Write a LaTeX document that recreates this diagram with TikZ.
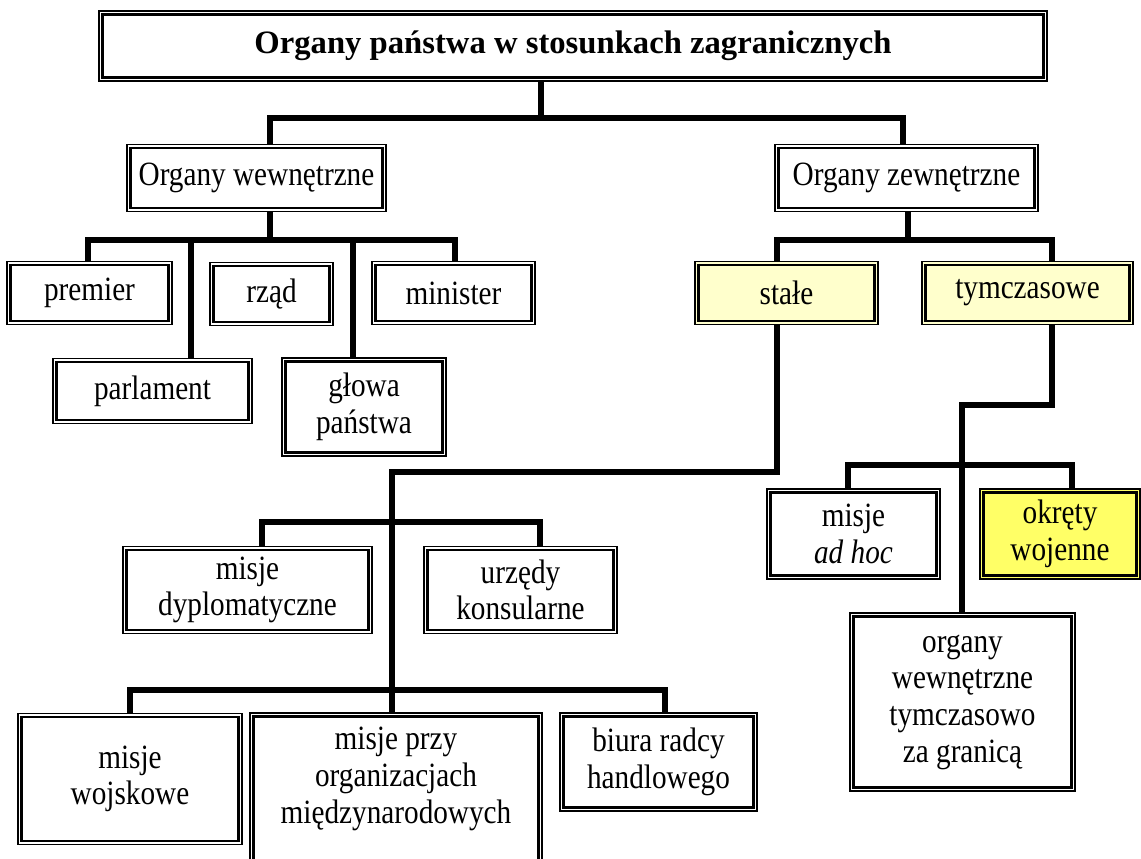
\documentclass[tikz,border=0pt]{standalone}
\usepackage{fontspec}
\setmainfont{Liberation Serif}[FakeStretch=0.86]
\newfontfamily\titlefont{Liberation Serif}
\begin{document}
\begin{tikzpicture}[x=0.75pt,y=-0.75pt,
  box/.style n args={4}{draw=black, line width=0.8pt, fill=white, inner sep=0pt,
     align=center, font=\fontsize{25.5}{27.5}\selectfont,
     minimum width={(#2-#1)*0.75pt}, minimum height={(#4-#3)*0.75pt}},
  conn/.style={line width=3.8pt, line join=miter},
  inner/.style={line width=1.6pt}]
\useasboundingbox (0,0) rectangle (1141,859);
\clip (0,0) rectangle (1141,859);
\fill[white] (0,0) rectangle (1141,859);

% boxes
\node[box={99}{1047}{10}{80}, font=\titlefont\fontsize{24.5}{27.5}\selectfont\bfseries] (title) at (573,46) {Organy państwa w stosunkach zagranicznych};
\node[box={127}{386}{143}{210}] (wew) at (256.5,178) {Organy wewnętrzne};
\node[box={775}{1038}{143}{210}] (zew) at (906.5,178) {Organy zewnętrzne};
\node[box={7}{172}{260}{323}] (premier) at (89.5,293) {premier};
\node[box={210}{333}{260}{323}] (rzad) at (271.5,294) {rząd};
\node[box={372}{535}{260}{323}] (minister) at (453.5,293) {minister};
\node[box={53}{252}{357}{422}] (parlament) at (152.5,391) {parlament};
\node[box={282}{446}{357}{455}] (glowa) at (364,407) {głowa\\państwa};
\node[box={695}{878}{260}{323}, fill={rgb,255:red,255;green,255;blue,204}] (stale) at (786.5,293) {stałe};
\node[box={922}{1133}{260}{323}, fill={rgb,255:red,255;green,255;blue,204}] (tymcz) at (1027.5,293) {tymczasowe};
\node[box={123}{372}{545}{632}] (dypl) at (247.5,590) {misje\\dyplomatyczne};
\node[box={424}{617}{545}{632}] (urz) at (520.5,590) {urzędy\\konsularne};
\node[box={18}{242}{712}{843}] (wojsk) at (130,779) {misje\\wojskowe};
\node[box={250}{542}{712}{866}, text depth=22pt] (przy) at (396,790) {misje przy\\organizacjach\\międzynarodowych};
\node[box={560}{757}{712}{810}] (biura) at (658.5,762) {biura radcy\\handlowego};
\node[box={767}{940}{488}{578}] (adhoc) at (853.5,534) {misje\\\textit{ad hoc}};
\node[box={980}{1140}{488}{578}, fill={rgb,255:red,255;green,255;blue,102}] (okrety) at (1060,534) {okręty\\wojenne};
\node[box={850}{1075}{612}{790}] (tymgr) at (962.5,702) {organy\\wewnętrzne\\tymczasowo\\za granicą};

% inner thick lines of the borders
\foreach \n in {title,wew,zew,premier,rzad,minister,parlament,glowa,stale,tymcz,dypl,urz,wojsk,przy,biura,adhoc,okrety,tymgr}
  \draw[inner] ([shift={(4,4)}]\n.north west) rectangle ([shift={(-4,-4)}]\n.south east);

% junction coordinates
\coordinate (j0) at (541,118);
\coordinate (wl) at (270,118);
\coordinate (zr) at (903,118);
\coordinate (wb) at (270,240);
\coordinate (a1) at (88,240);
\coordinate (a2) at (191,240);
\coordinate (a3) at (353,240);
\coordinate (a4) at (455,240);
\coordinate (zb) at (908,240);
\coordinate (b1) at (777,240);
\coordinate (b2) at (1052,240);
\coordinate (c1) at (777,472);
\coordinate (c2) at (392,472);
\coordinate (d1) at (262,522);
\coordinate (d2) at (540,522);
\coordinate (e1) at (130,690);
\coordinate (e2) at (665,690);
\coordinate (f1) at (1052,405);
\coordinate (f2) at (962,405);
\coordinate (g1) at (848,465);
\coordinate (g2) at (1072,465);

% connectors
\draw[conn] (title.south -| j0) -- (j0);
\draw[conn] (wew.north -| wl) -- (wl) -- (zr) -- (zew.north -| zr);
\draw[conn] (wew.south -| wb) -- (wb);
\draw[conn] (premier.north -| a1) -- (a1) -- (a4) -- (minister.north -| a4);
\draw[conn] (a2) -- (parlament.north -| a2);
\draw[conn] (a3) -- (glowa.north -| a3);
\draw[conn] (zew.south -| zb) -- (zb);
\draw[conn] (stale.north -| b1) -- (b1) -- (b2) -- (tymcz.north -| b2);
\draw[conn] (stale.south -| c1) -- (c1) -- (c2) -- (przy.north -| c2);
\draw[conn] (dypl.north -| d1) -- (d1) -- (d2) -- (urz.north -| d2);
\draw[conn] (wojsk.north -| e1) -- (e1) -- (e2) -- (biura.north -| e2);
\draw[conn] (tymcz.south -| f1) -- (f1) -- (f2) -- (tymgr.north -| f2);
\draw[conn] (adhoc.north -| g1) -- (g1) -- (g2) -- (okrety.north -| g2);
\end{tikzpicture}
\end{document}
